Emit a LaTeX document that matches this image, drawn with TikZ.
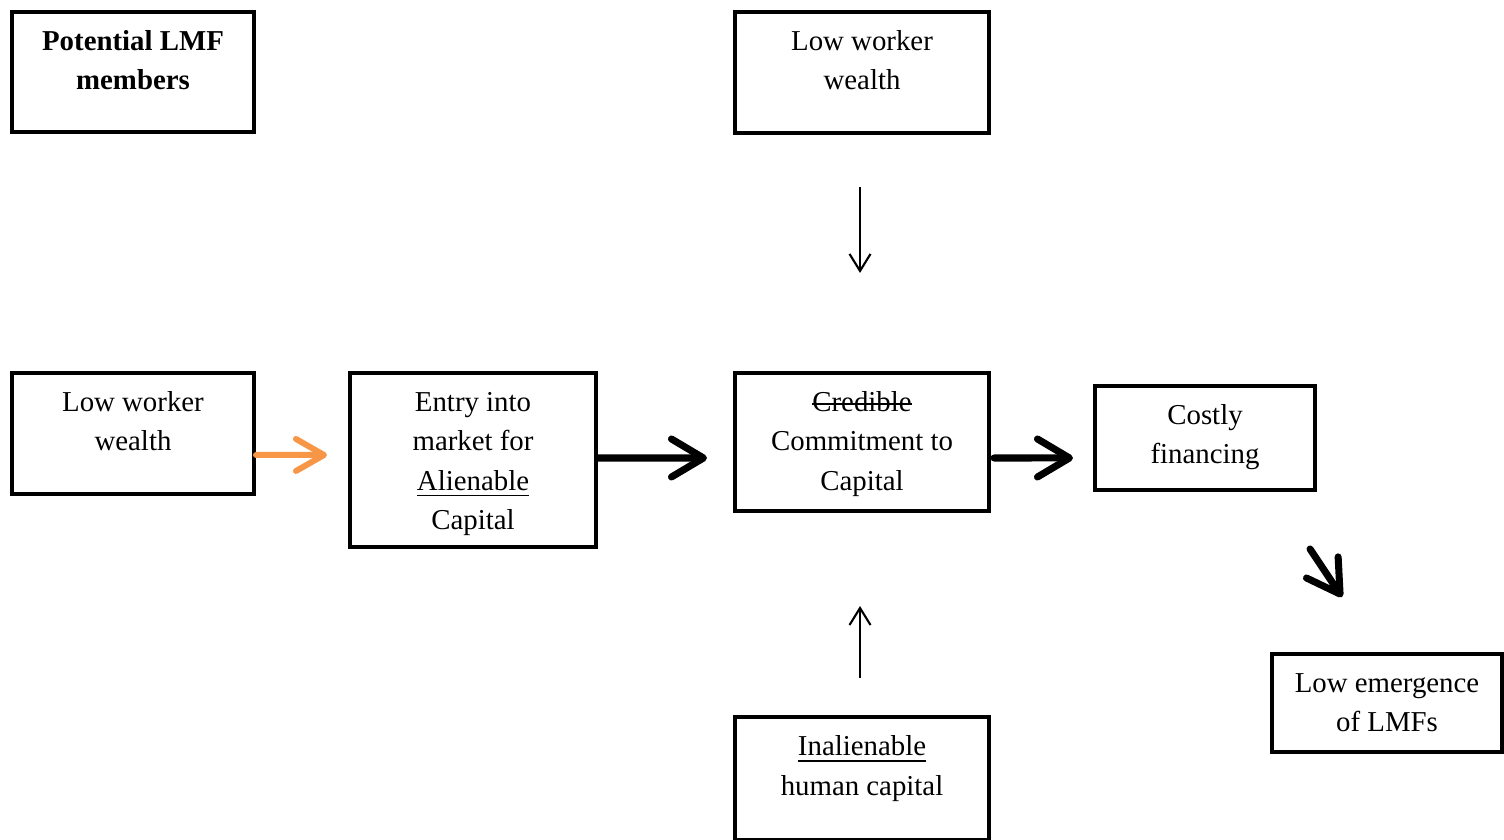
\documentclass[tikz,border=0pt]{standalone}
\usepackage{fontspec}
\setmainfont{Liberation Serif}
\usetikzlibrary{arrows.meta,calc}
\definecolor{arrorange}{HTML}{F79646}
\newcommand{\bt}[3]{\parbox[c][#2][t]{#1}{\centering\rule{0pt}{0.39cm}#3\par}}
\newcommand{\strikeword}[1]{\setbox0\hbox{#1}\rlap{\rule[0.25em]{\wd0}{0.5pt}}\box0}
\begin{document}
\begin{tikzpicture}[x=0.01cm,y=-0.01cm,
  every node/.style={font=\fontsize{8.2pt}{11.1pt}\selectfont},
  box/.style={draw,line width=1.1pt,inner sep=0pt,anchor=north west,fill=white},
  thinarrow/.style={line width=0.6pt,-{Straight Barb[length=1.7mm,width=2.1mm]}},
  thickarrow/.style={line width=2pt,line cap=round,-{Straight Barb[length=3.2mm,width=3.8mm,round]}},
  orangearrow/.style={draw=arrorange,line width=1.7pt,line cap=round,-{Straight Barb[length=2.8mm,width=3.2mm,round]}}
]
\useasboundingbox (0,0) rectangle (1504,840);

\node[box] (pot) at (10,10) {\bt{2.42cm}{1.20cm}{\textbf{Potential LMF}\\\textbf{members}}};
\node[box] (topww) at (733,10) {\bt{2.54cm}{1.21cm}{Low worker\\wealth}};
\node[box] (lww) at (10,371) {\bt{2.42cm}{1.21cm}{Low worker\\wealth}};
\node[box] (entry) at (348,371) {\bt{2.46cm}{1.74cm}{Entry into\\market for\\\underline{Alienable}\\Capital}};
\node[box] (cred) at (733,371) {\bt{2.54cm}{1.38cm}{\strikeword{Credible}\\Commitment to\\Capital}};
\node[box] (costly) at (1093,384) {\bt{2.20cm}{1.04cm}{Costly\\financing}};
\node[box] (lowe) at (1270,652) {\bt{2.30cm}{0.98cm}{Low emergence\\of LMFs}};
\node[box] (inal) at (733,715) {\bt{2.54cm}{1.23cm}{\underline{Inalienable}\\human capital}};

\coordinate (d1) at (1310,549);
\coordinate (d2) at (1342,597);

\draw[thinarrow,shorten <=0.52cm,shorten >=0.98cm] ([xshift=-0.02cm]topww.south) -- ([xshift=-0.02cm]cred.north);
\draw[thinarrow,shorten <=0.37cm,shorten >=0.93cm] ([xshift=-0.02cm]inal.north) -- ([xshift=-0.02cm]cred.south);
\draw[orangearrow,shorten >=0.21cm] ([yshift=-0.215cm]lww.east) -- ([yshift=0.05cm]entry.west);
\draw[thickarrow,shorten >=0.26cm] ([yshift=0.02cm]entry.east) -- ([yshift=-0.16cm]cred.west);
\draw[thickarrow,shorten <=0.03cm,shorten >=0.20cm] ([yshift=-0.16cm]cred.east) -- ([yshift=-0.20cm]costly.west);
\draw[thickarrow] (d1) -- (d2);
\end{tikzpicture}
\end{document}
